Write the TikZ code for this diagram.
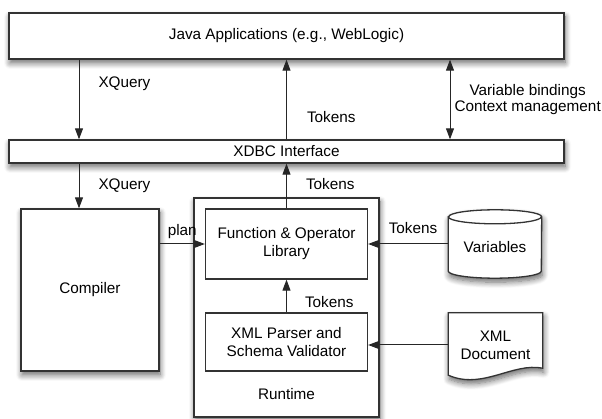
\documentclass[tikz,border=0pt]{standalone}
\usepackage{fontspec}
\setmainfont{Liberation Sans}
\usepackage{tikz}
\usetikzlibrary{arrows.meta}
\usetikzlibrary{shadows}
\usetikzlibrary{shadows.blur}
\usetikzlibrary{calc}
\newcommand{\diagfont}{\fontsize{15.3pt}{18pt}\selectfont}
\tikzset{
  % filled triangle tips, as in the drawing
  >={Triangle[length=11pt,width=8pt]},
  soft/.style={blur shadow={shadow xshift=1pt, shadow yshift=-4pt, shadow blur radius=6pt, shadow blur steps=8, shadow opacity=60}}
}
\pgfdeclarelayer{background}
\pgfsetlayers{background,main}

\begin{document}
\begin{tikzpicture}[x=1pt, y=1pt, node distance=100pt, font=\diagfont]
    % Define styles
    \tikzstyle{block} = [rectangle, draw=black!80, line width=1.3pt, fill=white, align=center, inner sep=0pt]
    \tikzstyle{layer} = [block, soft, minimum width=555pt]
    \tikzstyle{inner} = [block, minimum width=162pt]
    \tikzstyle{line} = [draw, black!85, line width=1pt, ->]
    \tikzstyle{lbl} = [inner sep=2pt, text=black]

    \useasboundingbox (0,0) rectangle (602,419);

    % Place nodes
    \node [layer, minimum height=46pt] (java) at (286.5,383) {Java Applications (e.g., WebLogic)};
    \node [layer, minimum height=23pt, below of=java, node distance=115.5pt] (xdbc) {XDBC Interface};
    \node [block, soft, minimum width=185pt, minimum height=219pt, below of=xdbc, node distance=156pt] (runtime) {};
    \node [inner, minimum height=70pt, above of=runtime, node distance=63.5pt] (func) {Function \& Operator\\Library};
    \node [inner, minimum height=58pt, below of=func, node distance=98pt] (parser) {XML Parser and\\Schema Validator};
    \node [below of=parser, node distance=52pt] (rtlbl) {Runtime};
    \node [block, soft, minimum width=138pt, minimum height=162pt, left of=runtime, node distance=196.5pt, yshift=17.5pt] (compiler) {Compiler};
    \node [minimum width=93pt, minimum height=61pt, inner sep=0pt, right of=func, node distance=208.5pt, yshift=-3.5pt] (vars) {Variables};
    \node [minimum width=94pt, minimum height=64pt, inner sep=0pt, align=center, right of=parser, node distance=209pt, yshift=-3pt] (xmldoc) {XML\\Document};

    % Store and document outlines
    \begin{pgfonlayer}{background}
    \path [draw=black!80, line width=1.3pt, fill=white, soft] (vars.north west) -- ($(vars.south west)+(0,7)$)
        arc [start angle=180, end angle=360, x radius=46.5pt, y radius=7pt] -- (vars.north east)
        arc [start angle=0, end angle=180, x radius=46.5pt, y radius=7pt] -- cycle;
    \draw [black!80, line width=1.3pt] (vars.north west) arc [start angle=180, end angle=360, x radius=46.5pt, y radius=7pt];
    \path [draw=black!80, line width=1.3pt, fill=white, soft] (xmldoc.north west) -- (xmldoc.north east) -- ($(xmldoc.south east)+(0,9)$)
        .. controls ($(xmldoc.south east)+(-30,15)$) and ($(xmldoc.south west)+(34,-13)$) .. ($(xmldoc.south west)+(0,2)$) -- cycle;
    \end{pgfonlayer}

    % Draw edges
    \coordinate (qx) at (79,0);
    \coordinate (vx) at (450,0);
    \path [line] (java.south -| qx) -- node [lbl, right=17pt, pos=0.3] (q1) {XQuery} (xdbc.north -| qx);
    \path [line] (xdbc.north -| func) -- node [lbl, right=18pt, pos=0.28] (t1) {Tokens} (java.south -| func);
    \path [line, <->] (java.south -| vx) -- node [lbl, right=2pt, align=center, font=\fontsize{15.3pt}{16pt}\selectfont] (vb) {Variable bindings\\Context management} (xdbc.north -| vx);
    \path [line] (xdbc.south -| qx) -- node [lbl, right=17pt] (q2) {XQuery} (compiler.north -| qx);
    \path [line] (func.north) -- node [lbl, right=17pt, pos=0.55] (t2) {Tokens} (xdbc.south -| func);
    \path [line] (compiler.east |- func) -- node [lbl, above=3pt] (pl) {plan} (func.west);
    \path [line] (vars.west |- func) -- node [lbl, above=8pt, pos=0.44] (t3) {Tokens} (func.east);
    \path [line] (parser.north) -- node [lbl, right=16pt, pos=0.32] (t4) {Tokens} (func.south);
    \path [line] (xmldoc.west) -- (xmldoc.west -| parser.east);

\end{tikzpicture}
\end{document}
